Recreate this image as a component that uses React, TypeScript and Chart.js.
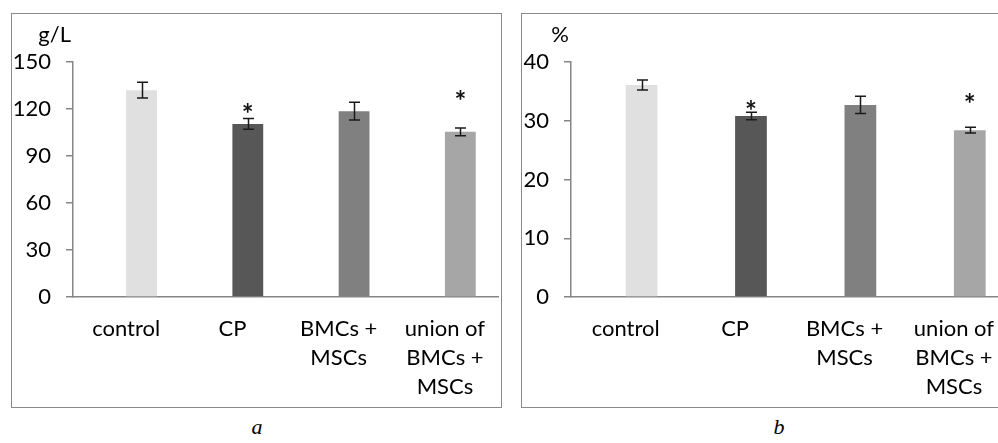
import React, { useEffect, useRef } from "react";
import { Chart, registerables } from "chart.js";

Chart.register(...registerables);

// ---- data ----
const categories: string[][] = [
  ["control"],
  ["CP"],
  ["BMCs +", "MSCs"],
  ["union of", "BMCs +", "MSCs"],
];
const barColors = ["#e0e0e0", "#575757", "#808080", "#a6a6a6"];

const hbValues = [132, 110.5, 118.6, 105.4];
const hbErrors = [5, 3.4, 5.7, 2.4];
const hbStars: (number | null)[] = [null, 120.5, null, 129.2];
const hbTicks = [0, 30, 60, 90, 120, 150];

const htValues = [36.1, 30.8, 32.7, 28.4];
const htErrors = [0.85, 0.65, 1.45, 0.5];
const htStars: (number | null)[] = [null, 32.6, null, 33.8];
const htTicks = [0, 10, 20, 30, 40];

const FONT = "Lato, 'Open Sans', sans-serif";
const AXIS = "#868686";

type PanelProps = {
  values: number[];
  errors: number[];
  stars: (number | null)[];
  ticks: number[];
  unit: string;
  left: number;
  top: number;
  width: number;
  height: number;
  yAxisWidth: number;
  xAxisHeight: number;
  topPad: number;
};

function Panel(p: PanelProps) {
  const ref = useRef<HTMLCanvasElement | null>(null);
  useEffect(() => {
    if (!ref.current) return;
    const extras = {
      id: "extras",
      afterDatasetsDraw(chart: any) {
        const ctx = chart.ctx;
        const y = chart.scales.y;
        const meta = chart.getDatasetMeta(1);
        ctx.save();
        // error bars
        ctx.strokeStyle = "#1a1a1a";
        ctx.lineWidth = 1.5;
        meta.data.forEach((bar: any, i: number) => {
          const x = Math.round(bar.x) + 0.5;
          const yt = y.getPixelForValue(p.values[i] + p.errors[i]);
          const yb = y.getPixelForValue(p.values[i] - p.errors[i]);
          ctx.beginPath();
          ctx.moveTo(x, yt);
          ctx.lineTo(x, yb);
          ctx.moveTo(x - 5.5, yt);
          ctx.lineTo(x + 5.5, yt);
          ctx.moveTo(x - 5.5, yb);
          ctx.lineTo(x + 5.5, yb);
          ctx.stroke();
        });
        // significance stars
        ctx.fillStyle = "#111";
        ctx.font = `bold 28px ${FONT}`;
        ctx.textAlign = "center";
        ctx.textBaseline = "alphabetic";
        meta.data.forEach((bar: any, i: number) => {
          const s = p.stars[i];
          if (s == null) return;
          const m = ctx.measureText("*");
          const off = (m.actualBoundingBoxAscent - m.actualBoundingBoxDescent) / 2;
          ctx.fillText("*", bar.x, y.getPixelForValue(s) + off);
        });
        // unit label
        ctx.fillStyle = "#000";
        ctx.font = `22px ${FONT}`;
        ctx.textAlign = "right";
        ctx.fillText(p.unit, chart.chartArea.left - 2, chart.chartArea.top - 20);
        ctx.restore();
      },
    };
    const chart = new Chart(ref.current, {
      type: "bar",
      data: {
        labels: categories,
        datasets: [
          {
            data: p.values.map(() => null),
            backgroundColor: "rgba(0,0,0,0)",
          },
          {
            data: p.values,
            backgroundColor: barColors,
          },
        ],
      },
      options: {
        responsive: false,
        animation: false,
        devicePixelRatio: 1,
        categoryPercentage: 0.58,
        barPercentage: 1,
        layout: { padding: { top: p.topPad, left: 0, right: 0, bottom: 0 } },
        plugins: {
          legend: { display: false },
          tooltip: { enabled: false },
          title: { display: false },
        },
        scales: {
          x: {
            grid: { display: false, drawTicks: false },
            border: { display: true, color: AXIS, width: 1.5 },
            ticks: {
              color: "#000",
              font: { family: FONT, size: 22, lineHeight: "29px" } as any,
              padding: 17,
              maxRotation: 0,
              autoSkip: false,
            },
            afterFit(scale: any) {
              scale.height = p.xAxisHeight;
            },
          },
          y: {
            min: 0,
            max: p.ticks[p.ticks.length - 1],
            grid: {
              display: true,
              drawOnChartArea: false,
              drawTicks: true,
              tickLength: 7,
              color: AXIS,
              lineWidth: 1.5,
            },
            border: { display: true, color: AXIS, width: 1.5 },
            ticks: {
              color: "#000",
              font: { family: FONT, size: 22 },
              padding: 15,
            },
            afterBuildTicks(scale: any) {
              scale.ticks = p.ticks.map((v) => ({ value: v }));
            },
            afterFit(scale: any) {
              scale.width = p.yAxisWidth;
            },
          },
        },
      },
      plugins: [extras],
    } as any);
    return () => chart.destroy();
  }, []);
  return (
    <canvas
      ref={ref}
      width={p.width}
      height={p.height}
      style={{
        position: "absolute",
        left: p.left,
        top: p.top,
        width: p.width,
        height: p.height,
      }}
    />
  );
}

const captionStyle: React.CSSProperties = {
  position: "absolute",
  width: 40,
  top: 414,
  textAlign: "center",
  fontFamily: "'Liberation Serif', serif",
  fontStyle: "italic",
  fontSize: 22,
};

export default function App() {
  return (
    <div
      style={{
        position: "fixed",
        left: 0,
        top: 0,
        width: 998,
        height: 443,
        overflow: "hidden",
        background: "#fff",
      }}
    >
      <div
        style={{
          position: "absolute",
          left: 11,
          top: 13,
          width: 489,
          height: 393,
          border: "1px solid #8a8a8a",
        }}
      />
      <div
        style={{
          position: "absolute",
          left: 521,
          top: 13,
          width: 600,
          height: 393,
          border: "1px solid #8a8a8a",
        }}
      />
      <Panel
        values={hbValues}
        errors={hbErrors}
        stars={hbStars}
        ticks={hbTicks}
        unit="g/L"
        left={12}
        top={14}
        width={490}
        height={393}
        yAxisWidth={61}
        xAxisHeight={110}
        topPad={48}
      />
      <Panel
        values={htValues}
        errors={htErrors}
        stars={htStars}
        ticks={htTicks}
        unit="%"
        left={522}
        top={14}
        width={489}
        height={393}
        yAxisWidth={49}
        xAxisHeight={110}
        topPad={48}
      />
      <div style={{ ...captionStyle, left: 237 }}>a</div>
      <div style={{ ...captionStyle, left: 759 }}>b</div>
    </div>
  );
}
